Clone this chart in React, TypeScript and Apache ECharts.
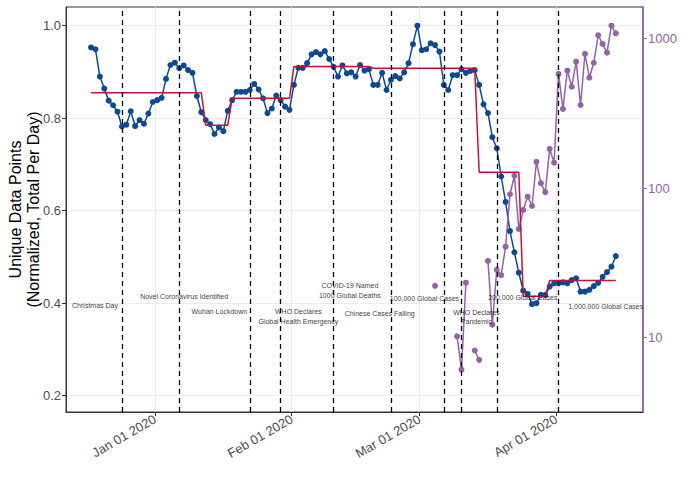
import React, { useEffect, useRef } from "react";
import * as echarts from "echarts";

const DAY = 86400000;

// Daily unique data points (normalized), starting 2019-12-18
const blueStartDate = "2019-12-18";
const blueValues = [
  0.953, 0.949, 0.890, 0.864, 0.838, 0.828, 0.814, 0.782, 0.786, 0.815,
  0.783, 0.796, 0.788, 0.810, 0.835, 0.839, 0.844, 0.885, 0.915, 0.920,
  0.908, 0.914, 0.904, 0.898, 0.848, 0.813, 0.796, 0.787, 0.766, 0.780,
  0.772, 0.816, 0.839, 0.857, 0.857, 0.857, 0.861, 0.874, 0.862, 0.843,
  0.811, 0.821, 0.849, 0.839, 0.825, 0.818, 0.872, 0.909, 0.909, 0.919,
  0.938, 0.943, 0.938, 0.945, 0.928, 0.911, 0.890, 0.914, 0.897, 0.899,
  0.890, 0.915, 0.903, 0.906, 0.872, 0.872, 0.898, 0.861, 0.883, 0.891,
  0.886, 0.899, 0.919, 0.960, 1.000, 0.947, 0.949, 0.962, 0.958, 0.944,
  0.872, 0.861, 0.893, 0.893, 0.906, 0.898, 0.902, 0.904, 0.872, 0.830,
  0.811, 0.759, 0.735, 0.674, 0.619, 0.556, 0.510, 0.466, 0.427, 0.420,
  0.398, 0.400, 0.418, 0.418, 0.436, 0.443, 0.443, 0.445, 0.443, 0.450,
  0.454, 0.425, 0.425, 0.429, 0.437, 0.444, 0.457, 0.467, 0.479, 0.502,
];

// Daily cases (right log axis), starting 2020-03-05; null = missing
const purpleStartDate = "2020-03-05";
const purpleValues = [
  22.2, null, null, null, null, 10.2, 6.1, 23.3, null, 8.2,
  7.1, null, 32.6, 12.2, 28.4, 26.2, 40.6, 91, 121, 53.3,
  71.5, 87.7, 76, 150, 108, 94, 183, 148, 581, 339,
  611, 477, 702, 360, 791, 548, 690, 1054, 922, 806,
  1222, 1086,
];

// Segment means (red)
const redStartDates = ["2019-12-18", "2020-01-13", "2020-01-19", "2020-02-02", "2020-02-20", "2020-03-15", "2020-03-25", "2020-03-31"];
const redEndDates = ["2020-01-12", "2020-01-18", "2020-02-01", "2020-02-19", "2020-03-14", "2020-03-24", "2020-03-30", "2020-04-15"];
const redValues = [0.855, 0.785, 0.843, 0.912, 0.908, 0.683, 0.415, 0.449];

// Events (dashed lines)
const eventDates = ["2019-12-25", "2020-01-07", "2020-01-23", "2020-01-30", "2020-02-11", "2020-02-24", "2020-03-07", "2020-03-11", "2020-03-19", "2020-04-02"];
const eventLabels = [
  "Christmas Day",
  "Novel Coronavirus Identified",
  "Wuhan Lockdown",
  "WHO Declares\nGlobal Health Emergency",
  "COVID-19 Named\n1000 Global Deaths",
  "Chinese Cases Falling",
  "100,000 Global Cases",
  "WHO Declares\nPandemic",
  "200,000 Global Cases",
  "1,000,000 Global Cases",
];

const monthTicks = ["2020-01-01", "2020-02-01", "2020-03-01", "2020-04-01"];
const leftTicks = [0.2, 0.4, 0.6, 0.8, 1.0];
const rightTicks = [10, 100, 1000];

// layout of the annotation texts (day shift from event, y position on left axis)
const labelLayout = [
  { dx: -6.1, y: 0.396 },
  { dx: 1.1, y: 0.414 },
  { dx: -6.9, y: 0.381 },
  { dx: 4.0, y: 0.371 },
  { dx: 3.7, y: 0.427 },
  { dx: -2.55, y: 0.377 },
  { dx: -4.4, y: 0.411 },
  { dx: 3.4, y: 0.37 },
  { dx: 5.9, y: 0.412 },
  { dx: 10.7, y: 0.392 },
];

const MONTHS = ["Jan", "Feb", "Mar", "Apr", "May", "Jun", "Jul", "Aug", "Sep", "Oct", "Nov", "Dec"];

function t(s: string): number {
  const [y, m, d] = s.split("-").map(Number);
  return new Date(y, m - 1, d).getTime();
}

const FONT = "'Liberation Sans', Arial, Helvetica, sans-serif";
const BLUE = "#0B4A93";
const RED = "#C2113D";
const PURPLE = "#9362A8";

export default function App() {
  const ref = useRef<HTMLDivElement>(null);

  useEffect(() => {
    if (!ref.current) return;
    const chart = echarts.init(ref.current, undefined, { renderer: "svg" });
    const jan1 = t("2020-01-01");
    const tickVals = monthTicks.map((s) => t(s) + 0.5 * DAY);

    const b0 = t(blueStartDate);
    const blueData = blueValues.map((v, i) => [b0 + i * DAY, v]);
    const p0 = t(purpleStartDate);
    const purpleData = purpleValues.map((v, i) => [p0 + i * DAY, v]);
    const redData: any[] = [];
    redValues.forEach((v, i) => {
      redData.push([t(redStartDates[i]), v]);
      redData.push([t(redEndDates[i]), v]);
    });
    const annData = eventLabels.map((txt, i) => [
      t(eventDates[i]) + labelLayout[i].dx * DAY,
      labelLayout[i].y,
      txt,
    ]);

    const option: any = {
      animation: false,
      backgroundColor: "#ffffff",
      textStyle: { fontFamily: FONT },
      grid: {
        left: 66,
        right: 41,
        top: 7,
        bottom: 65,
        show: true,
        borderColor: "#333333",
        borderWidth: 1,
        backgroundColor: "transparent",
        containLabel: false,
        outerBoundsMode: "none",
      },
      xAxis: {
        type: "value",
        min: jan1 - 19.68 * DAY,
        max: jan1 + 111.16 * DAY,
        axisLine: { show: true, onZero: false, lineStyle: { color: "#333333", width: 1 } },
        axisTick: { show: true, length: 4, lineStyle: { color: "#333333" }, customValues: tickVals },
        axisLabel: {
          customValues: tickVals,
          rotate: 30,
          margin: 6,
          fontSize: 13,
          color: "#4D4D4D",
          fontFamily: FONT,
          formatter: (v: number) => {
            const d = new Date(v);
            const dd = String(d.getDate()).padStart(2, "0");
            return `${MONTHS[d.getMonth()]} ${dd} ${d.getFullYear()}`;
          },
        },
        splitLine: { show: true, lineStyle: { color: "#EBEBEB", width: 1 } },
      },
      yAxis: [
        {
          type: "value",
          min: 0.1648,
          max: 1.0404,
          position: "left",
          name: "Unique Data Points\n(Normalized, Total Per Day)",
          nameLocation: "middle",
          nameGap: 24,
          nameMoveOverlap: false,
          nameTextStyle: { fontSize: 16, color: "#000000", lineHeight: 18, fontFamily: FONT },
          axisLine: { show: true, lineStyle: { color: "#333333" } },
          axisTick: { show: true, length: 4, lineStyle: { color: "#333333" }, customValues: leftTicks },
          axisLabel: {
            customValues: leftTicks,
            fontSize: 13,
            color: "#4D4D4D",
            margin: 5,
            fontFamily: FONT,
            formatter: (v: number) => v.toFixed(1),
          },
          splitLine: { show: true, lineStyle: { color: "#EBEBEB", width: 1 } },
        },
        {
          type: "log",
          logBase: 10,
          min: 3.18,
          max: 1629,
          position: "right",
          name: "Daily New Cases (Log Scale)",
          nameLocation: "middle",
          nameGap: 46,
          nameRotate: -90,
          nameMoveOverlap: false,
          nameTextStyle: { fontSize: 16, color: "#000000", fontFamily: FONT },
          axisLine: { show: true, lineStyle: { color: PURPLE, width: 1.5 } },
          axisTick: { show: true, length: 4, lineStyle: { color: PURPLE }, customValues: rightTicks },
          axisLabel: {
            customValues: rightTicks,
            fontSize: 13,
            color: PURPLE,
            margin: 5,
            fontFamily: FONT,
            formatter: (v: number) => String(Math.round(v)),
          },
          splitLine: { show: false },
        },
      ],
      series: [
        {
          name: "unique",
          type: "line",
          yAxisIndex: 0,
          data: blueData,
          symbol: "circle",
          symbolSize: 6,
          showSymbol: true,
          itemStyle: { color: BLUE },
          lineStyle: { color: BLUE, width: 1.5 },
          z: 3,
        },
        {
          name: "segments",
          type: "line",
          yAxisIndex: 0,
          data: redData,
          symbol: "none",
          showSymbol: false,
          lineStyle: { color: RED, width: 1.5 },
          z: 4,
        },
        {
          name: "cases",
          type: "line",
          yAxisIndex: 1,
          data: purpleData,
          connectNulls: false,
          symbol: "circle",
          symbolSize: 6,
          showSymbol: true,
          itemStyle: { color: PURPLE },
          lineStyle: { color: PURPLE, width: 1.5 },
          z: 3,
        },
        {
          name: "events",
          type: "scatter",
          yAxisIndex: 0,
          data: annData,
          symbolSize: 0,
          silent: true,
          z: 6,
          label: {
            show: true,
            position: "inside",
            fontSize: 7,
            lineHeight: 9.5,
            color: "#000000",
            fontFamily: FONT,
            formatter: (p: any) => p.data[2],
          },
          markLine: {
            silent: true,
            symbol: ["none", "none"],
            label: { show: false },
            lineStyle: { color: "#000000", width: 1.3, type: [5, 4] },
            data: eventDates.map((d) => ({ xAxis: t(d) })),
          },
        },
      ],
    };
    chart.setOption(option);
    return () => chart.dispose();
  }, []);

  return (
    <div
      ref={ref}
      style={{ position: "fixed", left: 0, top: 0, width: 684, height: 477, background: "#fff" }}
    />
  );
}
